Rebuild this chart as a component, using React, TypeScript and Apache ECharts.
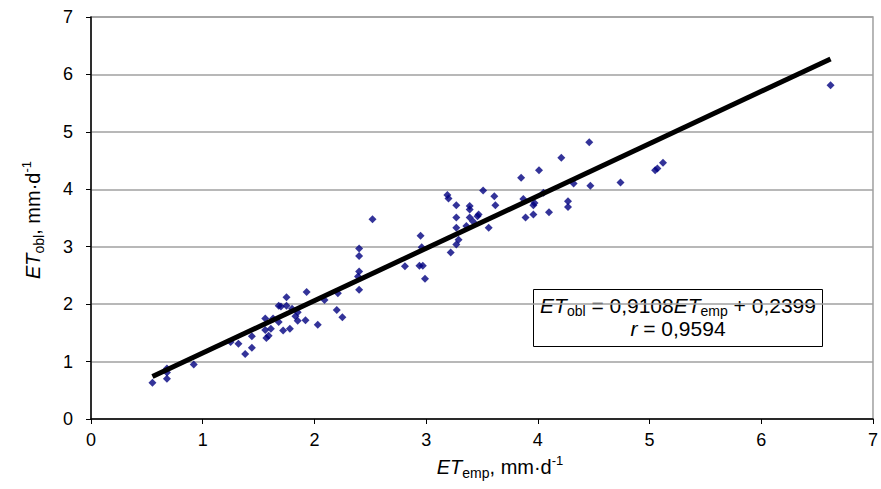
import React, { useEffect, useRef } from "react";
import * as echarts from "echarts";

const etEmp = [
  0.55, 0.68, 0.68, 0.68, 0.92, 1.25, 1.32, 1.38, 1.44, 1.44,
  1.56, 1.56, 1.57, 1.59, 1.61, 1.63, 1.68, 1.70, 1.68, 1.72,
  1.75, 1.75, 1.78, 1.80, 1.83, 1.85, 1.85, 1.92, 1.93, 2.03,
  2.09, 2.20, 2.21, 2.25, 2.40, 2.40, 2.40, 2.39, 2.40, 2.52,
  2.81, 2.94, 2.97, 2.95, 2.96, 2.99, 3.19, 3.20, 3.27, 3.27,
  3.27, 3.22, 3.27, 3.29, 3.36, 3.39, 3.39, 3.39, 3.42, 3.46,
  3.47, 3.51, 3.56, 3.61, 3.62, 3.85, 3.87, 3.89, 3.96, 3.96,
  3.97, 4.01, 4.10, 4.05, 4.21, 4.27, 4.27, 4.32, 4.46, 4.47,
  4.74, 5.05, 5.07, 5.12, 6.62,
];
const etObl = [
  0.63, 0.88, 0.81, 0.70, 0.95, 1.34, 1.31, 1.13, 1.44, 1.24,
  1.75, 1.55, 1.41, 1.45, 1.57, 1.75, 1.97, 1.96, 1.69, 1.54,
  2.12, 1.97, 1.57, 1.92, 1.79, 1.86, 1.71, 1.72, 2.21, 1.64,
  2.07, 1.90, 2.19, 1.77, 2.97, 2.84, 2.57, 2.48, 2.25, 3.48,
  2.66, 2.67, 2.67, 3.19, 2.99, 2.44, 3.90, 3.84, 3.72, 3.51,
  3.33, 2.90, 3.04, 3.12, 3.36, 3.71, 3.65, 3.51, 3.44, 3.53,
  3.56, 3.98, 3.33, 3.88, 3.72, 4.20, 3.83, 3.51, 3.72, 3.56,
  3.76, 4.33, 3.60, 3.94, 4.55, 3.79, 3.69, 4.10, 4.82, 4.06,
  4.12, 4.33, 4.36, 4.46, 5.81,
];
// trend line end points (ETobl = 0,9108 ETemp + 0,2399)
const trendX = [0.55, 6.62];
const trendY = [0.74, 6.27];
const axisTicks = [0, 1, 2, 3, 4, 5, 6, 7];

const FONT = "'Liberation Sans', Arial, sans-serif";

export default function App() {
  const ref = useRef<HTMLDivElement>(null);
  useEffect(() => {
    document.body.style.margin = "0";
    if (!ref.current) return;
    const chart = echarts.init(ref.current, undefined, { renderer: "svg" });
    const points = etEmp.map((x, i) => [x, etObl[i]]);
    const trend = trendX.map((x, i) => [x, trendY[i]]);
    const axisMin = axisTicks[0];
    const axisMax = axisTicks[axisTicks.length - 1];
    const richTitle = {
      i: { fontStyle: "italic", fontSize: 20, fontFamily: FONT, fill: "#000", lineHeight: 26 },
      sub: { fontSize: 14, fontFamily: FONT, fill: "#000", lineHeight: 14, verticalAlign: "bottom" },
      n: { fontSize: 20, fontFamily: FONT, fill: "#000", lineHeight: 26 },
      sup: { fontSize: 13, fontFamily: FONT, fill: "#000", lineHeight: 13, verticalAlign: "top" },
    };
    const richEq = {
      i: { fontStyle: "italic", fontSize: 21, fontFamily: FONT, fill: "#000", lineHeight: 24 },
      sub: { fontSize: 14, fontFamily: FONT, fill: "#000", lineHeight: 14, verticalAlign: "bottom" },
      n: { fontSize: 21, fontFamily: FONT, fill: "#000", lineHeight: 24 },
    };
    chart.setOption({
      animation: false,
      grid: {
        left: 91,
        top: 17,
        right: 8,
        bottom: 70,
        show: true,
        borderColor: "#a0a0a0",
        borderWidth: 1.5,
        backgroundColor: "transparent",
      },
      xAxis: {
        type: "value",
        min: axisMin,
        max: axisMax,
        interval: 1,
        axisLine: { show: true, onZero: false, lineStyle: { color: "#000", width: 1.5 } },
        axisTick: { show: true, length: 5, lineStyle: { color: "#000", width: 1 } },
        axisLabel: { fontFamily: FONT, fontSize: 18, color: "#000", margin: 12 },
        splitLine: { show: false },
      },
      yAxis: {
        type: "value",
        min: axisMin,
        max: axisMax,
        interval: 1,
        axisLine: { show: true, onZero: false, lineStyle: { color: "#000", width: 1.5 } },
        axisTick: { show: true, length: 5, lineStyle: { color: "#000", width: 1 } },
        axisLabel: { fontFamily: FONT, fontSize: 18, color: "#000", margin: 18 },
        splitLine: { show: true, lineStyle: { color: "#a0a0a0", width: 1.5 } },
      },
      series: [
        {
          type: "scatter",
          data: points,
          symbol: "diamond",
          symbolSize: 8,
          itemStyle: { color: "#000080" },
          z: 2,
        },
        {
          type: "line",
          data: trend,
          symbol: "none",
          lineStyle: { color: "#000", width: 5 },
          z: 3,
        },
      ],
      graphic: [
        {
          type: "text",
          x: 500,
          y: 467,
          style: {
            text: "{i|ET}{sub|emp}{n|, mm·d}{sup|-1}",
            rich: richTitle,
            fill: "#000",
            align: "center",
            verticalAlign: "middle",
          },
        },
        {
          type: "text",
          x: 33,
          y: 220,
          rotation: Math.PI / 2,
          style: {
            text: "{i|ET}{sub|obl}{n|, mm·d}{sup|-1}",
            rich: richTitle,
            fill: "#000",
            align: "center",
            verticalAlign: "middle",
          },
        },
        {
          type: "group",
          left: 533,
          top: 289,
          z: 100,
          children: [
            {
              type: "rect",
              shape: { x: 0, y: 0, width: 289, height: 57 },
              style: { fill: "#fff", stroke: "#000", lineWidth: 1 },
            },
            {
              type: "text",
              x: 144.5,
              y: 16,
              style: {
                text: "{i|ET}{sub|obl}{n| = 0,9108}{i|ET}{sub|emp}{n| + 0,2399}",
                rich: richEq,
                fill: "#000",
                align: "center",
                verticalAlign: "middle",
              },
            },
            {
              type: "text",
              x: 144.5,
              y: 39,
              style: {
                text: "{i|r}{n| = 0,9594}",
                rich: richEq,
                fill: "#000",
                align: "center",
                verticalAlign: "middle",
              },
            },
          ],
        },
      ],
    });
    return () => chart.dispose();
  }, []);
  return <div ref={ref} style={{ width: 881, height: 489 }} />;
}
